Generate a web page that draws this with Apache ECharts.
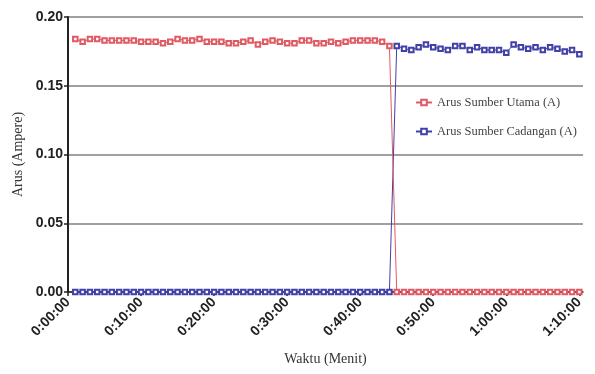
<!DOCTYPE html>
<html>
<head>
<meta charset="utf-8">
<script src="https://cdn.jsdelivr.net/npm/echarts@6/dist/echarts.min.js"></script>
<style>html,body{margin:0;padding:0;background:#fff;}#c{width:595px;height:374px;}</style>
</head>
<body>
<div id="c"></div>
<script>
// time in minutes
const timesMain = [1,2,3,4,5,6,7,8,9,10,11,12,13,14,15,16,17,18,19,20,21,22,23,24,25,26,27,28,29,30,31,32,33,34,35,36,37,38,39,40,41,42,43,44];
const timesBackup = [45,46,47,48,49,50,51,52,53,54,55,56,57,58,59,60,61,62,63,64,65,66,67,68,69,70];
// Arus Sumber Utama while active (A)
const utamaOn = [0.184,0.182,0.184,0.184,0.183,0.183,0.183,0.183,0.183,0.182,0.182,0.182,0.181,0.182,0.184,0.183,0.183,0.184,0.182,0.182,0.182,0.181,0.181,0.182,0.183,0.180,0.182,0.183,0.182,0.181,0.181,0.183,0.183,0.181,0.181,0.182,0.181,0.182,0.183,0.183,0.183,0.183,0.182,0.179];
// Arus Sumber Cadangan while active (A)
const cadanganOn = [0.179,0.177,0.176,0.178,0.180,0.178,0.177,0.176,0.179,0.179,0.176,0.178,0.176,0.176,0.176,0.174,0.180,0.178,0.177,0.178,0.176,0.178,0.177,0.175,0.176,0.173];
const yTicks = [0, 0.05, 0.10, 0.15, 0.20];
const xTicks = [0, 10, 20, 30, 40, 50, 60, 70];
const seriesNames = ['Arus Sumber Utama (A)', 'Arus Sumber Cadangan (A)'];

const utama = timesMain.map((t,i)=>[t, utamaOn[i]]).concat(timesBackup.map(t=>[t,0]));
const cadangan = timesMain.map(t=>[t,0]).concat(timesBackup.map((t,i)=>[t, cadanganOn[i]]));

function fmt(m){
  const h = Math.floor(m/60), mm = m%60;
  return h + ':' + String(mm).padStart(2,'0') + ':00';
}
const RED = '#e05a64', BLUE = '#4040a8';
const chart = echarts.init(document.getElementById('c'), null, {renderer:'canvas'});
chart.setOption({
  animation:false,
  backgroundColor:'#fff',
  grid:{left:68, right:12, top:17, bottom:82},
  legend:{
    orient:'vertical', left:410, top:91, itemGap:16, itemWidth:16, itemHeight:7,
    textStyle:{fontFamily:'Liberation Serif', fontSize:12.5, color:'#444'},
    data:seriesNames
  },
  xAxis:{
    type:'value', min:0, max:70.5,
    name:'Waktu (Menit)', nameLocation:'middle', nameGap:60,
    nameTextStyle:{fontFamily:'Liberation Serif', fontSize:14, color:'#333'},
    axisLine:{lineStyle:{color:'#222', width:1.5}},
    axisTick:{customValues:xTicks, length:4, lineStyle:{color:'#222', width:1.5}},
    axisLabel:{customValues:xTicks, formatter:v=>fmt(v), rotate:45, fontFamily:'Liberation Sans', fontWeight:'bold', fontSize:14, color:'#222', margin:8},
    splitLine:{show:false}
  },
  yAxis:{
    type:'value', min:0, max:0.20, interval:0.05,
    name:'Arus (Ampere)', nameLocation:'middle', nameGap:42,
    nameTextStyle:{fontFamily:'Liberation Serif', fontSize:14, color:'#333'},
    axisLine:{show:true, lineStyle:{color:'#222', width:2}},
    axisTick:{show:true, length:4, lineStyle:{color:'#222', width:1.5}},
    axisLabel:{formatter:v=>v.toFixed(2), fontFamily:'Liberation Sans', fontWeight:'bold', fontSize:14, color:'#222', margin:5},
    splitLine:{show:true, lineStyle:{color:'#a0a0a0', width:2}}
  },
  series:[
    {name:seriesNames[0], type:'line', data:utama, symbol:'emptyRect', symbolSize:4.5,
     lineStyle:{color:RED, width:1}, itemStyle:{color:RED, borderWidth:1}, z:3},
    {name:seriesNames[1], type:'line', data:cadangan, symbol:'emptyRect', symbolSize:4.5,
     lineStyle:{color:BLUE, width:1}, itemStyle:{color:BLUE, borderWidth:1}, z:2}
  ]
});
</script>
</body>
</html>
